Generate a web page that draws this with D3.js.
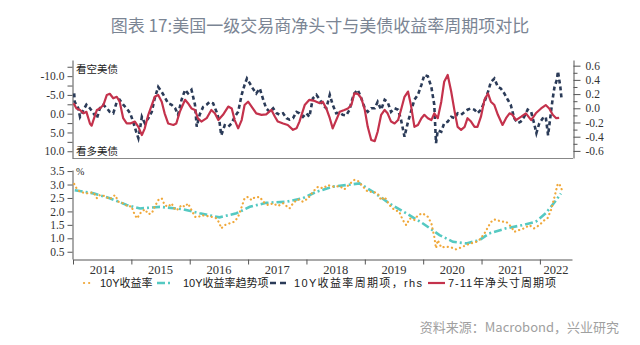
<!DOCTYPE html>
<html><head><meta charset="utf-8">
<script src="https://cdn.jsdelivr.net/npm/d3@7"></script>
<style>body{margin:0;background:#fff}svg{display:block}</style>
</head><body><svg id="c" width="640" height="345"></svg>
<script>
const titleText = "图表 17:美国一级交易商净头寸与美债收益率周期项对比";
const sourceText = "资料来源：Macrobond，兴业研究";
const yearLabels = [2014,2015,2016,2017,2018,2019,2020,2021,2022];
const topLeftTicks = [-10,-5,0,5,10];
const topLeftMinor = [-12.5,-7.5,-2.5,2.5,7.5];
const topRightTicks = [0.6,0.4,0.2,0,-0.2,-0.4,-0.6];
const topRightMinor = [0.5,0.3,0.1,-0.1,-0.3,-0.5];
const bottomTicks = [0.5,1,1.5,2,2.5,3,3.5];
const legendLabels = ["10Y收益率","10Y收益率趋势项","10Y收益率周期项，rhs","7-11年净头寸周期项"];

// 7-11年净头寸周期项 (left axis, reversed)
const netT = [2014.01,2014.06,2014.12,2014.18,2014.23,2014.29,2014.32,2014.35,2014.41,2014.46,2014.52,2014.58,2014.63,2014.69,2014.75,2014.80,2014.86,2014.92,2014.98,2015.06,2015.12,2015.18,2015.23,2015.29,2015.35,2015.40,2015.46,2015.52,2015.57,2015.63,2015.72,2015.77,2015.83,2015.92,2015.97,2016.03,2016.09,2016.14,2016.20,2016.29,2016.37,2016.43,2016.49,2016.57,2016.66,2016.72,2016.77,2016.83,2016.89,2016.94,2017.00,2017.06,2017.14,2017.23,2017.31,2017.40,2017.46,2017.51,2017.60,2017.68,2017.77,2017.83,2017.88,2017.97,2018.05,2018.14,2018.23,2018.28,2018.34,2018.40,2018.45,2018.51,2018.57,2018.65,2018.71,2018.77,2018.82,2018.88,2018.94,2019.00,2019.05,2019.11,2019.17,2019.22,2019.28,2019.34,2019.39,2019.45,2019.51,2019.57,2019.62,2019.68,2019.74,2019.79,2019.85,2019.91,2019.97,2020.02,2020.08,2020.14,2020.19,2020.25,2020.31,2020.36,2020.42,2020.48,2020.54,2020.59,2020.65,2020.71,2020.76,2020.82,2020.88,2020.93,2020.99,2021.05,2021.11,2021.16,2021.22,2021.28,2021.36,2021.42,2021.48,2021.53,2021.59,2021.68,2021.76,2021.85,2021.93,2022.02,2022.10,2022.16,2022.22,2022.28,2022.33];
const netV = [-2.8,-1.4,-1.0,-0.1,-0.5,2.6,3.2,1.7,-1.0,-1.4,-2.3,-5.0,-5.3,-4.1,-4.5,-3.2,1.2,2.6,2.6,2.1,3.5,5.7,3.9,0.3,-2.3,-4.5,-5.0,-3.2,-0.1,2.6,3.0,2.6,-0.5,-3.7,-2.8,-1.4,-1.0,1.2,2.1,1.2,-1.0,-0.1,1.7,0.3,-1.9,-1.4,1.7,3.9,1.7,-2.3,-3.2,-1.9,-0.1,0.3,0.2,-1.0,0.8,2.1,2.6,3.0,4.3,3.9,2.1,-2.3,-3.7,-3.4,-2.8,-3.2,-1.4,1.2,3.9,1.7,-0.5,-1.0,-1.4,-2.3,-5.4,-5.3,-4.1,-1.0,3.5,7.0,7.3,4.8,0.3,-1.0,-0.1,2.1,2.6,1.7,-1.0,-4.5,-5.9,-2.3,3.5,3.0,1.2,0.3,1.2,1.7,-0.1,1.2,-3.2,-8.5,-10.3,-5.9,-0.5,3.5,4.3,3.5,1.2,2.1,3.5,3.5,0.8,-3.7,-5.4,-3.2,-2.3,0.3,3.0,1.2,-0.1,0.3,1.7,0.8,-0.1,1.7,-0.1,-1.4,-2.3,-1.4,0.3,1.2,1.1];

// 10Y收益率周期项 (right axis)
const cycT = [2014.02,2014.03,2014.09,2014.12,2014.18,2014.23,2014.29,2014.35,2014.41,2014.46,2014.52,2014.58,2014.63,2014.69,2014.75,2014.80,2014.86,2014.92,2014.98,2015.03,2015.09,2015.12,2015.15,2015.18,2015.23,2015.29,2015.35,2015.40,2015.46,2015.52,2015.57,2015.63,2015.69,2015.75,2015.80,2015.86,2015.92,2015.97,2016.03,2016.09,2016.12,2016.17,2016.23,2016.29,2016.34,2016.40,2016.46,2016.51,2016.54,2016.60,2016.66,2016.72,2016.77,2016.83,2016.89,2016.94,2016.98,2017.03,2017.08,2017.14,2017.20,2017.26,2017.31,2017.37,2017.43,2017.49,2017.54,2017.60,2017.66,2017.71,2017.77,2017.83,2017.88,2017.94,2018.00,2018.05,2018.11,2018.17,2018.23,2018.28,2018.34,2018.40,2018.45,2018.51,2018.57,2018.62,2018.68,2018.74,2018.77,2018.82,2018.88,2018.94,2019.00,2019.05,2019.11,2019.17,2019.22,2019.28,2019.34,2019.39,2019.45,2019.51,2019.57,2019.62,2019.68,2019.74,2019.79,2019.85,2019.91,2019.97,2020.02,2020.08,2020.14,2020.19,2020.22,2020.25,2020.31,2020.36,2020.42,2020.48,2020.54,2020.59,2020.65,2020.71,2020.76,2020.82,2020.88,2020.93,2020.99,2021.05,2021.11,2021.16,2021.22,2021.28,2021.33,2021.39,2021.45,2021.50,2021.56,2021.62,2021.67,2021.73,2021.79,2021.85,2021.90,2021.94,2021.99,2022.05,2022.10,2022.14,2022.19,2022.22,2022.25,2022.29,2022.31,2022.35,2022.37];
const cycV = [0.21,0.09,0.00,-0.12,-0.02,0.05,0.00,-0.07,-0.14,0.00,0.05,0.00,-0.05,-0.07,0.09,0.12,0.05,0.00,-0.07,-0.19,-0.35,-0.42,-0.28,-0.12,-0.21,-0.14,-0.05,0.14,0.30,0.23,0.16,0.07,0.05,0.00,-0.09,0.12,0.26,0.21,0.26,0.05,-0.26,-0.09,0.02,0.05,0.09,0.07,-0.05,-0.19,-0.38,-0.24,-0.26,-0.21,-0.12,-0.05,0.19,0.33,0.42,0.35,0.28,0.21,0.28,0.12,0.00,-0.05,0.00,-0.07,-0.09,-0.07,-0.14,-0.16,-0.14,-0.05,-0.07,-0.12,-0.07,-0.12,0.14,0.19,0.12,0.05,0.00,0.19,0.05,-0.07,-0.06,-0.09,-0.10,-0.02,0.09,0.21,0.26,0.14,0.00,-0.05,0.00,0.00,0.09,-0.02,0.12,0.09,-0.05,0.00,-0.02,-0.16,-0.40,-0.19,-0.05,0.12,0.19,0.33,0.47,0.45,0.30,0.05,-0.49,-0.31,-0.33,-0.21,-0.19,-0.12,-0.14,-0.07,-0.09,-0.05,-0.02,0.00,-0.02,-0.07,-0.02,0.09,0.23,0.37,0.42,0.30,0.28,0.21,0.12,0.05,-0.14,-0.21,-0.19,-0.12,-0.02,-0.05,-0.21,-0.35,-0.21,-0.14,-0.12,-0.38,-0.05,0.14,0.30,0.40,0.52,0.30,0.14];

// 10Y收益率
const yldT = [2014.02,2014.06,2014.12,2014.23,2014.35,2014.41,2014.46,2014.55,2014.63,2014.72,2014.78,2014.86,2014.95,2015.00,2015.06,2015.10,2015.15,2015.23,2015.29,2015.35,2015.40,2015.46,2015.52,2015.57,2015.63,2015.69,2015.75,2015.80,2015.86,2015.92,2015.97,2016.03,2016.09,2016.14,2016.20,2016.29,2016.37,2016.46,2016.51,2016.54,2016.60,2016.69,2016.77,2016.83,2016.89,2016.94,2017.00,2017.06,2017.11,2017.20,2017.26,2017.34,2017.43,2017.51,2017.60,2017.71,2017.77,2017.85,2017.94,2018.03,2018.11,2018.20,2018.28,2018.37,2018.45,2018.57,2018.65,2018.74,2018.82,2018.88,2018.97,2019.05,2019.14,2019.22,2019.28,2019.34,2019.42,2019.51,2019.59,2019.65,2019.71,2019.77,2019.85,2019.91,2019.99,2020.08,2020.14,2020.19,2020.22,2020.25,2020.31,2020.39,2020.48,2020.56,2020.65,2020.74,2020.82,2020.91,2020.96,2021.05,2021.13,2021.19,2021.25,2021.33,2021.42,2021.51,2021.56,2021.65,2021.73,2021.82,2021.90,2021.99,2022.08,2022.13,2022.19,2022.25,2022.30,2022.33,2022.38];
const yldV = [3.02,2.86,2.73,2.67,2.71,2.49,2.61,2.57,2.45,2.61,2.36,2.30,2.17,2.20,1.86,1.74,1.93,2.08,1.90,1.93,2.17,2.42,2.49,2.24,2.17,2.30,2.05,2.08,2.24,2.17,2.30,2.05,1.80,1.78,1.86,1.83,1.80,1.74,1.56,1.37,1.49,1.56,1.62,1.80,2.17,2.49,2.54,2.42,2.52,2.54,2.36,2.24,2.30,2.20,2.30,2.11,2.30,2.45,2.36,2.49,2.73,2.92,2.86,2.98,2.92,2.94,2.82,3.02,3.17,3.14,2.92,2.73,2.73,2.67,2.42,2.54,2.24,2.05,1.99,1.68,1.49,1.74,1.68,1.86,1.93,1.80,1.56,1.06,0.63,0.93,0.66,0.69,0.66,0.59,0.66,0.75,0.81,0.87,0.93,1.18,1.49,1.68,1.70,1.62,1.62,1.43,1.24,1.31,1.37,1.49,1.37,1.49,1.68,1.74,2.05,2.54,2.98,3.04,2.79];

// 10Y收益率趋势项
const trendT = [2014.03,2014.35,2014.63,2014.92,2015.15,2015.49,2015.89,2016.17,2016.51,2016.80,2017.03,2017.31,2017.66,2017.94,2018.17,2018.45,2018.68,2018.91,2019.14,2019.42,2019.71,2019.99,2020.28,2020.51,2020.74,2020.96,2021.13,2021.42,2021.70,2021.93,2022.10,2022.28,2022.36];
const trendV = [2.79,2.67,2.49,2.24,2.11,2.17,2.08,1.93,1.78,1.93,2.17,2.32,2.36,2.49,2.73,2.92,2.98,3.04,2.73,2.30,1.93,1.56,1.12,0.87,0.81,0.93,1.18,1.37,1.49,1.62,1.93,2.42,2.67];

const C = {orange:"#f0a83a", cyan:"#55c9c2", navy:"#2b3b58", red:"#c4324c", axis:"#555", text:"#333"};
const serif = "'Liberation Serif','Times New Roman',serif";
const cjk = "'Liberation Sans','Noto Sans CJK SC',sans-serif";

const svg = d3.select("#c");
const x = d3.scaleLinear().domain([2014, 2022.55]).range([73, 572]);
const yL = d3.scaleLinear().domain([-14.3, 11.8]).range([60, 158]);
const yR = d3.scaleLinear().domain([0.68, -0.70]).range([60, 158]);
const yB = d3.scaleLinear().domain([3.54, 0.23]).range([170, 259]);

// title
svg.append("text").attr("x", 320).attr("y", 32).attr("text-anchor","middle")
  .style("font-family","'Noto Sans CJK SC',sans-serif").style("font-size","17px").attr("fill","#7b8594").text(titleText);

// ----- top panel axes
svg.append("line").attr("x1",72.5).attr("x2",573).attr("y1",158.5).attr("y2",158.5).attr("stroke","#888").attr("stroke-width",1.2);
const gL = svg.append("g").attr("transform","translate(72.5,0)")
  .call(d3.axisLeft(yL).tickValues(topLeftTicks).tickSize(5).tickSizeOuter(0).tickFormat(d => d.toFixed(1)));
gL.select(".domain").attr("stroke",C.axis);
gL.selectAll(".tick line").attr("stroke",C.axis);
gL.selectAll("text").style("font-family",serif).style("font-size","11.5px").attr("fill",C.text);
svg.append("g").attr("transform","translate(72.5,0)")
  .call(d3.axisLeft(yL).tickValues(topLeftMinor).tickSize(5).tickFormat(""))
  .call(g => { g.select(".domain").remove(); g.selectAll("line").attr("stroke",C.axis); });

const gR = svg.append("g").attr("transform","translate(573.5,0)")
  .call(d3.axisRight(yR).tickValues(topRightTicks).tickSize(7).tickSizeOuter(0).tickFormat(d => d.toFixed(1)));
gR.select(".domain").attr("stroke",C.axis);
gR.selectAll(".tick line").attr("stroke",C.axis);
gR.selectAll("text").style("font-family",serif).style("font-size","11.5px").attr("fill",C.text).attr("x",12);
svg.append("g").attr("transform","translate(573.5,0)")
  .call(d3.axisRight(yR).tickValues(topRightMinor).tickSize(4).tickFormat(""))
  .call(g => { g.select(".domain").remove(); g.selectAll("line").attr("stroke",C.axis); });

svg.append("text").attr("x",76).attr("y",73).style("font-family","'Noto Sans CJK SC',serif").style("font-size","10.5px").attr("fill","#222").text("看空美债");
svg.append("text").attr("x",76).attr("y",155).style("font-family","'Noto Sans CJK SC',serif").style("font-size","10.5px").attr("fill","#222").text("看多美债");

// top series
const lineL = d3.line().x((d,i)=>x(netT[i])).y(d=>yL(d));
const lineR = d3.line().x((d,i)=>x(cycT[i])).y(d=>yR(d));
svg.append("path").datum(cycV).attr("d",lineR).attr("fill","none").attr("stroke",C.navy)
  .attr("stroke-width",2.6).attr("stroke-dasharray","4,3");
svg.append("path").datum(netV).attr("d",lineL).attr("fill","none").attr("stroke",C.red)
  .attr("stroke-width",2.2).attr("stroke-linejoin","round");

// ----- bottom panel
const gB = svg.append("g").attr("transform","translate(72.5,0)")
  .call(d3.axisLeft(yB).tickValues(bottomTicks).tickSize(5).tickSizeOuter(0).tickFormat(d => d.toFixed(1)));
gB.select(".domain").attr("stroke",C.axis);
gB.selectAll(".tick line").attr("stroke",C.axis);
gB.selectAll("text").style("font-family",serif).style("font-size","11.5px").attr("fill",C.text);
svg.append("text").attr("x",76).attr("y",175).style("font-family",serif).style("font-size","10px").attr("fill","#222").text("%");

const gX = svg.append("g").attr("transform","translate(0,259.5)")
  .call(d3.axisBottom(x).tickValues(yearLabels).tickSize(5).tickSizeOuter(0).tickFormat(""));
gX.select(".domain").attr("stroke",C.axis);
gX.selectAll(".tick line").attr("stroke",C.axis);
const xEnd = x.domain()[1];
svg.append("g").selectAll("text").data(yearLabels).join("text")
  .attr("x", d => x((d + Math.min(d+1, xEnd)) / 2)).attr("y", 274)
  .attr("text-anchor","middle").style("font-family",serif).style("font-size","12.5px").attr("fill",C.text)
  .text(d => d);

const lineY = d3.line().x((d,i)=>x(yldT[i])).y(d=>yB(d));
const lineT = d3.line().x((d,i)=>x(trendT[i])).y(d=>yB(d));
svg.append("path").datum(trendV).attr("d",lineT).attr("fill","none").attr("stroke",C.cyan)
  .attr("stroke-width",2.6).attr("stroke-dasharray","8,3,2,3");
svg.append("path").datum(yldV).attr("d",lineY).attr("fill","none").attr("stroke",C.orange)
  .attr("stroke-width",2.2).attr("stroke-linecap","round").attr("stroke-dasharray","0.1,4.2");

// ----- legend
const legY = 283;
const leg = [
  {x0:84, x1:94, tx:100, stroke:C.orange, w:2.2, dash:"0.1,5", cap:"round", len:null},
  {x0:157, x1:172, tx:183, stroke:C.cyan, w:2.6, dash:"8,3,2,3", cap:"butt", len:null},
  {x0:270, x1:289, tx:294, stroke:C.navy, w:2.6, dash:"6,4", cap:"butt", len:128},
  {x0:428, x1:445, tx:448, stroke:C.red, w:2.2, dash:null, cap:"butt", len:108}
];
leg.forEach((l,i) => {
  svg.append("line").attr("x1",l.x0).attr("x2",l.x1).attr("y1",legY).attr("y2",legY)
    .attr("stroke",l.stroke).attr("stroke-width",l.w).attr("stroke-dasharray",l.dash).attr("stroke-linecap",l.cap);
  const t = svg.append("text").attr("x",l.tx).attr("y",legY+4).style("font-family",cjk).style("font-size","11px")
    .attr("fill","#222").text(legendLabels[i]);
  if (l.len) t.attr("textLength", l.len).attr("lengthAdjust","spacing");
});

// source
svg.append("text").attr("x",619).attr("y",332).attr("text-anchor","end")
  .style("font-family","'Noto Sans CJK SC',sans-serif").style("font-size","13px").attr("fill","#a0a0a0").text(sourceText);
</script></body></html>
